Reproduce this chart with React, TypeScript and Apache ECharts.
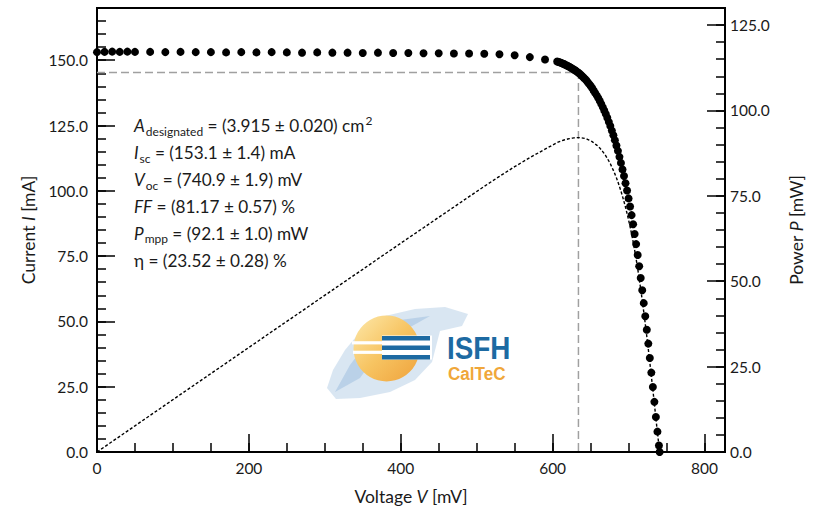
import React, { useEffect, useRef } from 'react';
import * as echarts from 'echarts';

// ---- Data ----
const voltageMV = [
  0, 10, 20, 30, 40, 50, 70, 90, 110, 130, 150, 170, 190, 210, 230, 250, 270, 290, 310, 330,
  350, 370, 390, 410, 430, 450, 470, 490, 510, 530, 550, 570, 590,
  606, 608, 610, 612, 614, 616, 618, 620, 622, 624, 626, 628, 630, 632, 634, 636, 638, 640,
  642, 644, 646, 648, 650, 652, 654, 656, 658, 660, 662, 664, 666, 668, 670, 672, 674, 676,
  678, 680, 682, 684, 686, 688, 690, 692, 694, 696, 698, 700, 702, 704, 706, 708, 710, 712,
  714, 716, 718, 720, 722, 724, 726, 728, 730, 732, 734, 736, 738, 740, 740.9,
];
const currentMA = [
  153.1, 153.2, 153.3, 153.2, 153.3, 153.2, 153.2, 153.1, 153.2, 153.1, 153.1, 153.0, 153.1,
  153.0, 153.1, 153.0, 152.9, 153.0, 152.9, 152.9, 152.8, 152.9, 152.8, 152.8, 152.7, 152.7,
  152.6, 152.6, 152.5, 152.3, 151.9, 151.2, 150.3,
  149.5, 149.3, 149.1, 148.9, 148.65, 148.4, 148.1, 147.8, 147.5, 147.15, 146.8, 146.45,
  146.05, 145.65, 145.2, 144.7, 144.15, 143.6, 143.05, 142.4, 141.7, 140.95, 140.25, 139.4,
  138.45, 137.5, 136.55, 135.6, 134.5, 133.3, 132.05, 130.8, 129.45, 127.95, 126.4, 124.85,
  123.05, 121.25, 119.4, 117.35, 115.3, 113.0, 110.7, 108.2, 105.65, 102.9, 100.1, 97.1,
  94.0, 90.7, 87.2, 83.5, 79.6, 75.4, 71.1, 66.6, 61.9, 57.0, 52.0, 46.8, 41.5, 36.0, 30.4,
  24.9, 19.2, 13.4, 7.8, 2.5, 0.0,
];
const mppVoltage = 634;
const mppCurrent = 145.3;

const paramLines = [
  '{i|A}{sub|designated}{n| = (3.915 ± 0.020) cm}{sup|2}',
  '{i|I}{sub|sc}{n| = (153.1 ± 1.4) mA}',
  '{i|V}{sub|oc}{n| = (740.9 ± 1.9) mV}',
  '{i|FF}{n| = (81.17 ± 0.57) %}',
  '{i|P}{sub|mpp}{n| = (92.1 ± 1.0) mW}',
  '{n|η = (23.52 ± 0.28) %}',
];

const xAxisName = '{n|Voltage }{i|V}{n| [mV]}';
const yLeftName = '{n|Current }{i|I}{n| [mA]}';
const yRightName = '{n|Power }{i|P}{n| [mW]}';

const FONT = 'Lato';
const TXT = '#1a1a1a';
const X_MAX = 827;

export default function App() {
  const ref = useRef<HTMLDivElement>(null);

  useEffect(() => {
    const chart = echarts.init(ref.current!, null, { renderer: 'svg' });

    const ivData = voltageMV.map((v, i) => [v, currentMA[i]]);
    const powerData = voltageMV.map((v, i) => [v, (v * currentMA[i]) / 1000]);
    const mppData = [
      [0, mppCurrent],
      [mppVoltage, mppCurrent],
      [mppVoltage, 0],
    ];

    const NS = 17.5;
    const nameStyle = {
      fontFamily: FONT,
      fontSize: NS,
      color: TXT,
      rich: {
        n: { fontFamily: FONT, fontSize: NS, color: TXT },
        i: { fontFamily: FONT, fontSize: NS, color: TXT, fontStyle: 'italic' },
      },
    };
    const labelStyle = { fontFamily: FONT, fontSize: 15.5, color: TXT };
    const majorTick = { show: true, inside: true, length: 18, lineStyle: { color: '#000', width: 1.5 } };
    const minorTick = { show: true, inside: true, length: 9, lineStyle: { color: '#000', width: 1.5 } };
    const axisLine = { show: true, lineStyle: { color: '#000', width: 2 } };

    const TS = 17.2;
    const textRich = {
      n: { fontFamily: FONT, fontSize: TS, color: TXT },
      i: { fontFamily: FONT, fontSize: TS, color: TXT, fontStyle: 'italic' },
      sub: { fontFamily: FONT, fontSize: 12, color: TXT, padding: [11, 0, 0, 1] },
      sup: { fontFamily: FONT, fontSize: 12, color: TXT, padding: [0, 0, 11, 1] },
    };
    const lineY = [125.5, 152.5, 179.5, 206.5, 233, 260];
    const textEls = paramLines.map((t, k) => ({
      type: 'text',
      x: 134,
      y: lineY[k],
      z: 10,
      style: {
        text: t,
        rich: textRich,
        textAlign: 'left',
        textVerticalAlign: 'middle',
        fill: TXT,
        font: `${TS}px ${FONT}`,
      },
    }));

    const blue = '#1d6aa2';
    const logoEls: any[] = [
      {
        type: 'polygon',
        z: 1,
        shape: {
          points: [
            [327, 388], [333, 370], [345, 350], [360, 332], [385, 316], [415, 309],
            [445, 307], [468, 314], [462, 326], [440, 331], [432, 362], [415, 380],
            [390, 392], [360, 398], [336, 399],
          ],
        },
        style: { fill: '#b3cde5', opacity: 0.5 },
      },
      {
        type: 'polygon',
        z: 1,
        shape: {
          points: [[335, 392], [350, 365], [372, 336], [400, 320], [430, 316], [405, 330], [380, 350], [360, 378]],
        },
        style: { fill: '#94b9dc', opacity: 0.45 },
      },
      {
        type: 'circle',
        z: 2,
        shape: { cx: 386.5, cy: 348.5, r: 33 },
        style: {
          fill: new echarts.graphic.LinearGradient(0, 0, 1, 1, [
            { offset: 0, color: '#fde9ab' },
            { offset: 0.5, color: '#f7c462' },
            { offset: 1, color: '#efa23b' },
          ]),
        },
      },
      { type: 'rect', z: 3, shape: { x: 382, y: 335.5, width: 50, height: 24 }, style: { fill: '#fff' } },
      { type: 'rect', z: 4, shape: { x: 382, y: 336, width: 48, height: 4.6 }, style: { fill: blue } },
      { type: 'rect', z: 4, shape: { x: 382, y: 345.5, width: 48, height: 4.6 }, style: { fill: blue } },
      { type: 'rect', z: 4, shape: { x: 382, y: 355, width: 48, height: 4.6 }, style: { fill: blue } },
      { type: 'rect', z: 4, shape: { x: 352, y: 341.2, width: 30, height: 3.2 }, style: { fill: '#fff' } },
      { type: 'rect', z: 4, shape: { x: 353, y: 350.7, width: 29, height: 3.2 }, style: { fill: '#fff' } },
      {
        type: 'text',
        z: 5,
        x: 447,
        y: 348,
        scaleX: 0.87,
        style: {
          text: 'ISFH',
          fill: blue,
          font: 'bold 32px "Liberation Sans"',
          textAlign: 'left',
          textVerticalAlign: 'middle',
        },
      },
      {
        type: 'text',
        z: 5,
        x: 448,
        y: 373.5,
        scaleX: 0.9,
        style: {
          text: 'CalTeC',
          fill: '#f0a73a',
          font: 'bold 19px "Liberation Sans"',
          textAlign: 'left',
          textVerticalAlign: 'middle',
        },
      },
    ];

    chart.setOption({
      animation: false,
      backgroundColor: '#fff',
      grid: {
        left: 97,
        right: 84,
        top: 8,
        bottom: 60,
        show: true,
        borderColor: '#000',
        borderWidth: 2,
        backgroundColor: 'transparent',
      },
      xAxis: [
        {
          type: 'value',
          min: 0,
          max: X_MAX,
          interval: 200,
          position: 'bottom',
          axisLine,
          axisTick: majorTick,
          splitLine: { show: false },
          axisLabel: {
            ...labelStyle,
            margin: 8,
            showMaxLabel: false,
            formatter: (v: number) => (v % 200 === 0 ? String(v) : ''),
          },
          name: xAxisName,
          nameLocation: 'middle',
          nameGap: 35,
          nameTextStyle: nameStyle,
        },
        {
          type: 'value',
          min: 0,
          max: X_MAX,
          interval: 50,
          position: 'bottom',
          axisLine: { show: false },
          axisTick: minorTick,
          axisLabel: { show: false },
          splitLine: { show: false },
        },
      ],
      yAxis: [
        {
          type: 'value',
          min: 0,
          max: 170,
          interval: 25,
          position: 'left',
          axisLine,
          axisTick: majorTick,
          splitLine: { show: false },
          axisLabel: {
            ...labelStyle,
            margin: 9,
            showMaxLabel: false,
            formatter: (v: number) => (v % 25 === 0 ? v.toFixed(1) : ''),
          },
          name: yLeftName,
          nameLocation: 'middle',
          nameRotate: 90,
          nameGap: 60,
          nameTextStyle: nameStyle,
        },
        {
          type: 'value',
          min: 0,
          max: 170,
          interval: 5,
          position: 'left',
          axisLine: { show: false },
          axisTick: minorTick,
          axisLabel: { show: false },
          splitLine: { show: false },
        },
        {
          type: 'value',
          min: 0,
          max: 130,
          interval: 25,
          position: 'right',
          axisLine,
          axisTick: majorTick,
          splitLine: { show: false },
          axisLabel: {
            ...labelStyle,
            margin: 5,
            showMaxLabel: false,
            formatter: (v: number) => (v % 25 === 0 ? v.toFixed(1) : ''),
          },
          name: yRightName,
          nameLocation: 'middle',
          nameRotate: 90,
          nameGap: 62,
          nameTextStyle: nameStyle,
        },
        {
          type: 'value',
          min: 0,
          max: 130,
          interval: 5,
          position: 'right',
          axisLine: { show: false },
          axisTick: minorTick,
          axisLabel: { show: false },
          splitLine: { show: false },
        },
      ],
      series: [
        {
          name: 'MPP',
          type: 'line',
          xAxisIndex: 0,
          yAxisIndex: 0,
          data: mppData,
          showSymbol: false,
          symbol: 'none',
          lineStyle: { color: '#a0a0a0', width: 1.5, type: [8, 4] },
          z: 1,
          silent: true,
        },
        {
          name: 'Power',
          type: 'line',
          xAxisIndex: 0,
          yAxisIndex: 2,
          data: powerData,
          showSymbol: false,
          symbol: 'none',
          lineStyle: { color: '#000', width: 1.4, type: [3, 2] },
          z: 2,
          silent: true,
        },
        {
          name: 'IV',
          type: 'scatter',
          xAxisIndex: 0,
          yAxisIndex: 0,
          data: ivData,
          symbol: 'circle',
          symbolSize: 8,
          itemStyle: { color: '#000', opacity: 1 },
          z: 3,
          silent: true,
        },
      ],
      graphic: { elements: [...logoEls, ...textEls] },
    });

    return () => chart.dispose();
  }, []);

  return (
    <div
      ref={ref}
      style={{ position: 'absolute', left: 0, top: 0, width: 813, height: 512, background: '#fff' }}
    />
  );
}
